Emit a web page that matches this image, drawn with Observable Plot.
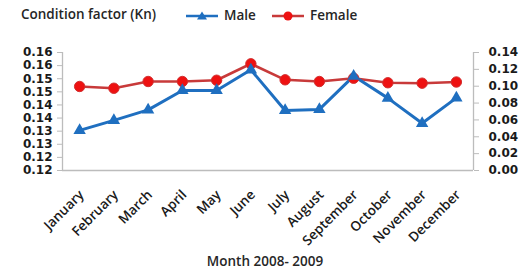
<!DOCTYPE html>
<html>
<head>
<meta charset="utf-8">
<script src="https://cdn.jsdelivr.net/npm/d3@7"></script>
<script src="https://cdn.jsdelivr.net/npm/@observablehq/plot@0.6"></script>
<style>
  html, body { margin: 0; padding: 0; background: #fff; }
  #wrap { position: relative; width: 526px; height: 275px; overflow: hidden; }
  #title { position: absolute; left: 21px; top: 5px; font-family: "Open Sans", sans-serif; font-weight: 600; font-size: 13.5px; color: #262626; white-space: nowrap; }
  .leg { position: absolute; top: 6px; font-family: "Open Sans", sans-serif; font-weight: 600; font-size: 13.5px; color: #262626; white-space: nowrap; }
  #xtitle { position: absolute; left: 0; width: 526px; top: 252px; text-align: center; font-family: "Open Sans", sans-serif; font-weight: 600; font-size: 13.5px; color: #262626; padding-left: 4px; box-sizing: border-box; }
  svg text { fill: #1a1a1a; }
</style>
</head>
<body>
<div id="wrap">
  <div id="chart"></div>
  <div id="title">Condition factor (Kn)</div>
  <div class="leg" id="legMale"></div>
  <div class="leg" id="legFemale"></div>
  <div id="xtitle">Month 2008- 2009</div>
</div>
<script>
const months = ["January","February","March","April","May","June","July","August","September","October","November","December"];
const male = [0.1353, 0.1391, 0.1431, 0.1505, 0.1505, 0.1584, 0.1429, 0.1433, 0.1560, 0.1476, 0.1380, 0.1477];
const female = [0.0997, 0.0976, 0.1056, 0.1056, 0.1071, 0.1266, 0.1076, 0.1056, 0.1095, 0.1041, 0.1036, 0.1050];
const leftTicks = [0.12, 0.125, 0.13, 0.135, 0.14, 0.145, 0.15, 0.155, 0.16, 0.165];
const leftTickLabels = ["0.12","0.12","0.13","0.13","0.14","0.14","0.15","0.15","0.16","0.16"];
const rightTicks = [0, 0.02, 0.04, 0.06, 0.08, 0.10, 0.12, 0.14];
const rightTickLabels = ["0.00","0.02","0.04","0.06","0.08","0.10","0.12","0.14"];

const blue = "#1f6fc0";
const redLine = "#c83a3a";
const redFill = "#ee1111";
const gray = "#bcbcbc";

const leftMin = 0.12, leftMax = 0.165, rightMin = 0, rightMax = 0.14;
const toLeft = v => leftMin + (v - rightMin) / (rightMax - rightMin) * (leftMax - leftMin);

const data = months.map((m, i) => ({i, month: m, male: male[i], female: toLeft(female[i])}));

const tickFont = {fontFamily: "DejaVu Sans", fontWeight: "bold", fontSize: 12};

const chart = Plot.plot({
  width: 526,
  height: 275,
  marginLeft: 62,
  marginRight: 53,
  marginTop: 52,
  marginBottom: 105,
  style: {background: "#fff", overflow: "visible"},
  x: {type: "linear", domain: [-0.5, months.length - 0.5], axis: null},
  y: {domain: [leftMin, leftMax], axis: null},
  marks: [
    Plot.ruleY([leftMin], {stroke: gray, strokeWidth: 1.3}),
    Plot.ruleX([-0.5, months.length - 0.5], {y1: leftMin, y2: leftMax, stroke: gray, strokeWidth: 1.3}),
    Plot.axisY(leftTicks, {anchor: "left", label: null, tickSize: 5, tickPadding: 5, stroke: gray, tickFormat: (d, i) => leftTickLabels[i], ...tickFont}),
    Plot.axisY(rightTicks.map(toLeft), {anchor: "right", label: null, tickSize: 5, tickPadding: 10, stroke: gray, tickFormat: (d, i) => rightTickLabels[i], ...tickFont}),
    Plot.axisX(d3.range(months.length), {anchor: "bottom", label: null, tickSize: 0, tickPadding: 6, tickRotate: -45, tickFormat: i => months[i], fontFamily: "Open Sans", fontWeight: 600, fontSize: 13.5, dx: 2, dy: 16}),
    Plot.line(data, {x: "i", y: "female", stroke: redLine, strokeWidth: 2.6}),
    Plot.line(data, {x: "i", y: "male", stroke: blue, strokeWidth: 3}),
    Plot.dot(data, {x: "i", y: "female", r: 5.2, fill: redFill, stroke: "#d23030", strokeWidth: 1}),
    Plot.dot(data, {x: "i", y: "male", symbol: "triangle", r: 4.6, fill: blue})
  ]
});
document.getElementById("chart").appendChild(chart);

function legendSwatch(el, color, symbolSvg, label, left) {
  el.style.left = left + "px";
  el.innerHTML = `<svg width="34" height="12" style="vertical-align:middle;margin-right:4px;overflow:visible">
    <line x1="0" y1="6" x2="32" y2="6" stroke="${color}" stroke-width="2.5"/>${symbolSvg}</svg>${label}`;
}
legendSwatch(document.getElementById("legMale"), blue,
  `<path d="M16,1.5 L21,9.5 L11,9.5 Z" fill="${blue}"/>`, "Male", 186);
legendSwatch(document.getElementById("legFemale"), redLine,
  `<circle cx="16" cy="6" r="4.5" fill="${redFill}"/>`, "Female", 272);
</script>
</body>
</html>
